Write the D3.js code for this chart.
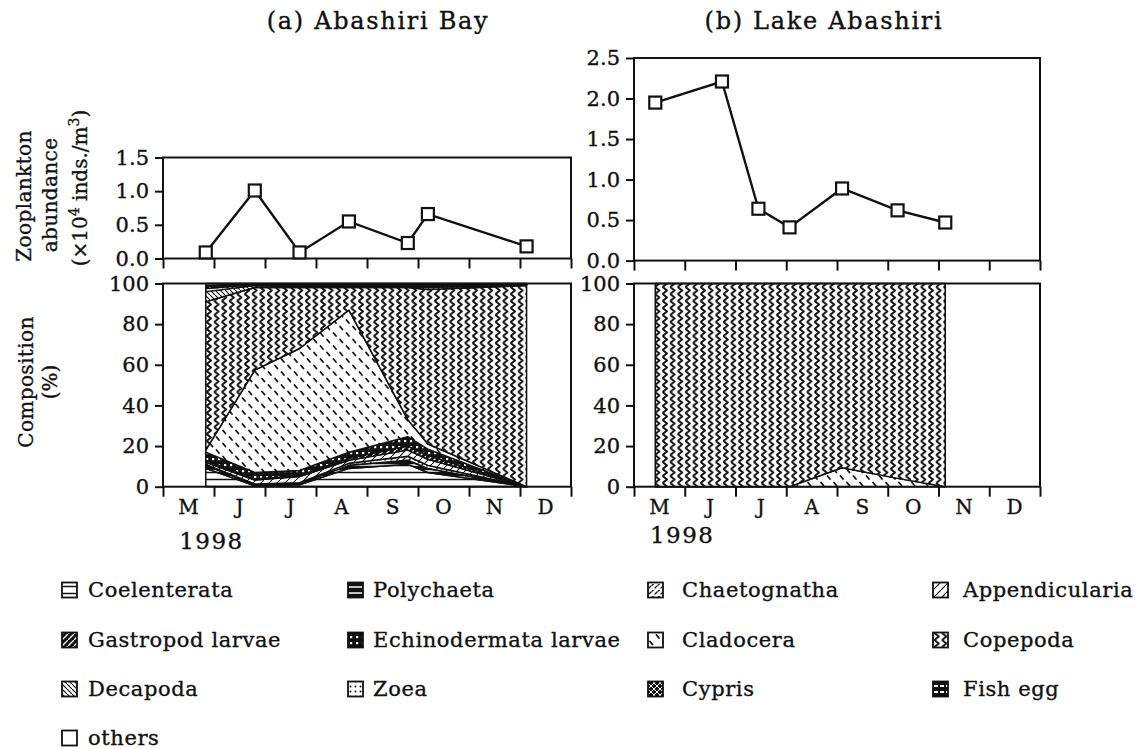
<!DOCTYPE html>
<html><head><meta charset="utf-8">
<script src="https://cdn.jsdelivr.net/npm/d3@7"></script>
<style>
body{margin:0;background:#fff;}
svg text{font-family:"DejaVu Serif",serif;fill:#111;stroke:#111;stroke-width:0.35px;}
</style></head><body>
<svg id="chart" width="1136" height="749"></svg>
<script>
// ---- data ----
const monthLabels = ["M","J","J","A","S","O","N","D"];
const yearLabel = "1998";
const bayDates = ["1998-05-27","1998-06-25","1998-07-22","1998-08-21","1998-09-25","1998-10-07","1998-12-05"];
const bayAbundance = [0.09, 1.01, 0.09, 0.55, 0.23, 0.66, 0.18];
const lakeDates = ["1998-05-14","1998-06-23","1998-07-15","1998-08-03","1998-09-04","1998-10-07","1998-11-05"];
const lakeAbundance = [1.95, 2.21, 0.64, 0.41, 0.89, 0.62, 0.47];
const bayAbundTicks = [0.0, 0.5, 1.0, 1.5];
const lakeAbundTicks = [0.0, 0.5, 1.0, 1.5, 2.0, 2.5];
const compTicks = [0, 20, 40, 60, 80, 100];
const taxa = ["Coelenterata","Polychaeta","Chaetognatha","Appendicularia","Gastropod larvae","Echinodermata larvae","Cladocera","Copepoda","Decapoda","Zoea","Cypris","Fish egg","others"];

// composition (%) in Abashiri Bay, one value per sampling date
const bayCoelenterata   = [9.0, 0.5, 1.0, 9.0, 11.0, 7.0, 0];
const bayPolychaeta     = [1.5, 0.5, 0.5, 1.5, 2.0, 2.0, 0];
const bayChaetognatha   = [0.5, 0.3, 0.5, 1.0, 2.0, 1.5, 0];
const bayAppendicularia = [1.0, 2.0, 3.0, 1.5, 3.0, 3.0, 0];
const bayGastropod      = [1.0, 0.5, 0.5, 1.0, 2.0, 2.0, 0];
const bayEchinodermata  = [4.0, 3.2, 2.5, 3.0, 4.6, 3.0, 0];
const bayCladocera      = [1.0, 50.4, 60.0, 69.9, 8.4, 2.5, 0];
const bayCopepoda       = [73.0, 40.6, 30.0, 11.1, 65.0, 76.0, 99.0];
const bayDecapoda       = [5.0, 1.0, 0.5, 0.5, 0.5, 1.0, 0.3];
const bayZoea           = [1.5, 0.5, 0.5, 0.5, 0.5, 0.5, 0.2];
const bayCypris         = [1.0, 0.2, 0.3, 0.3, 0.3, 0.5, 0.2];
const bayFishEgg        = [0.5, 0.1, 0.1, 0.3, 0.2, 0.5, 0.1];
const bayOthers         = [1.0, 0.2, 0.6, 0.4, 0.5, 0.5, 0.2];

// composition (%) in Lake Abashiri
const lakeCladocera = [0, 0, 0, 0, 9.3, 4.1, 0];
const lakeCopepoda  = [100, 100, 100, 100, 90.7, 95.9, 100];

const baySeries = {
  "Coelenterata": bayCoelenterata, "Polychaeta": bayPolychaeta, "Chaetognatha": bayChaetognatha,
  "Appendicularia": bayAppendicularia, "Gastropod larvae": bayGastropod,
  "Echinodermata larvae": bayEchinodermata, "Cladocera": bayCladocera, "Copepoda": bayCopepoda,
  "Decapoda": bayDecapoda, "Zoea": bayZoea, "Cypris": bayCypris, "Fish egg": bayFishEgg, "others": bayOthers
};
const lakeSeries = { "Cladocera": lakeCladocera, "Copepoda": lakeCopepoda };

// ---- helpers ----
function monthPos(s){
  const [y,m,d] = s.split("-").map(Number);
  const dim = new Date(y, m, 0).getDate();
  return (m - 5) + (d - 1) / dim;
}
const svg = d3.select("#chart");
const defs = svg.append("defs");

function pattern(id, w, h, bg, draw){
  const p = defs.append("pattern").attr("id", id)
    .attr("patternUnits","userSpaceOnUse").attr("width", w).attr("height", h);
  p.append("rect").attr("width", w).attr("height", h).attr("fill", bg);
  draw(p);
}
const ink = "#111";
function ln(p, x1,y1,x2,y2,c,w){ p.append("line").attr("x1",x1).attr("y1",y1).attr("x2",x2).attr("y2",y2).attr("stroke",c).attr("stroke-width",w).attr("stroke-linecap","round"); }

pattern("p-coel", 8, 7, "#fff", p => ln(p,0,3.5,8,3.5,ink,1.4));
pattern("p-poly", 8, 6, ink, p => ln(p,0,3,8,3,"#fff",1.4));
pattern("p-chae", 6, 6, "#fff", p => { ln(p,1,4,3,2,ink,1.3); ln(p,4,1.2,5.5,0,ink,1.1); });
pattern("p-appe", 8, 8, "#fff", p => ln(p,0,8,8,0,ink,1.2));
pattern("p-gast", 6, 6, ink, p => { ln(p,0,6,6,0,"#fff",1.4); });
pattern("p-echi", 6, 6, ink, p => p.append("rect").attr("x",2).attr("y",2).attr("width",2.2).attr("height",2.2).attr("fill","#fff"));
pattern("p-clad", 13, 13, "#fff", p => { ln(p,2,1.5,4.5,4.5,ink,1.8); ln(p,8.5,8,11,11,ink,1.8); });
pattern("p-cope", 7.6, 7, "#fff", p => p.append("path").attr("d","M1.4,0 L5.8,3.5 L1.4,7").attr("fill","none").attr("stroke",ink).attr("stroke-width",2).attr("stroke-linejoin","round"));
pattern("p-deca", 5, 5, "#fff", p => { ln(p,0,0,5,5,ink,1.2); });
pattern("p-zoea", 5, 5, "#fff", p => p.append("circle").attr("cx",2.5).attr("cy",2.5).attr("r",1).attr("fill",ink));
pattern("p-cypr", 6, 6, ink, p => { ln(p,0,0,6,6,"#fff",1); ln(p,6,0,0,6,"#fff",1); });
pattern("p-fish", 6, 6, ink, p => p.append("rect").attr("x",1).attr("y",2).attr("width",4).attr("height",2).attr("fill","#fff"));
pattern("p-othe", 6, 6, "#fff", p => {});
const fillOf = {
  "Coelenterata":"p-coel","Polychaeta":"p-poly","Chaetognatha":"p-chae","Appendicularia":"p-appe",
  "Gastropod larvae":"p-gast","Echinodermata larvae":"p-echi","Cladocera":"p-clad","Copepoda":"p-cope",
  "Decapoda":"p-deca","Zoea":"p-zoea","Cypris":"p-cypr","Fish egg":"p-fish","others":"p-othe"
};

// ---- panel layout ----
const compY = d3.scaleLinear().domain([0,100]).range([486.7, 283.5]);
const panels = [
  { title:"(a) Abashiri Bay", titleX:378, x:d3.scaleLinear().domain([0,8]).range([163,571]),
    y:d3.scaleLinear().domain([0,1.5]).range([258.5,157.5]), ticks:bayAbundTicks,
    dates:bayDates, abund:bayAbundance, series:baySeries, keys:taxa, yearY:549 },
  { title:"(b) Lake Abashiri", titleX:824, x:d3.scaleLinear().domain([0,8]).range([634,1040]),
    y:d3.scaleLinear().domain([0,2.5]).range([260.6,58]), ticks:lakeAbundTicks,
    dates:lakeDates, abund:lakeAbundance, series:lakeSeries, keys:["Cladocera","Copepoda"], yearY:543 }
];

function styleAxis(g, size){
  g.select(".domain").remove();
  g.selectAll(".tick line").attr("stroke", ink).attr("stroke-width", 2);
  g.selectAll(".tick text").style("font-family","DejaVu Serif, serif").style("font-size", size+"px").attr("fill","#111");
  g.attr("font-family", null).attr("font-size", null);
}

panels.forEach(P => {
  const x = P.x, y = P.y;
  const [x0, x1] = x.range();
  const [yb, yt] = y.range();

  svg.append("text").attr("x", P.titleX).attr("y", 29).attr("text-anchor","middle")
    .style("font-size","24px").style("letter-spacing","1.7px").text(P.title);

  // abundance axes
  const gy = svg.append("g").attr("transform", `translate(${x0},0)`)
    .call(d3.axisLeft(y).tickValues(P.ticks).tickSize(8).tickPadding(6).tickFormat(d3.format(".1f")));
  styleAxis(gy, 21);
  const gx = svg.append("g").attr("transform", `translate(0,${yb})`)
    .call(d3.axisBottom(x).tickValues(d3.range(0, 9)).tickSize(10).tickFormat(""));
  styleAxis(gx, 18);
  svg.append("rect").attr("x", x0).attr("y", yt).attr("width", x1 - x0).attr("height", yb - yt)
    .attr("fill","none").attr("stroke", ink).attr("stroke-width", 2);

  const pts = P.dates.map((d,i) => ({ m: monthPos(d), v: P.abund[i] }));
  svg.append("path").datum(pts)
    .attr("d", d3.line().x(d => x(d.m)).y(d => y(d.v)))
    .attr("fill","none").attr("stroke", ink).attr("stroke-width", 2.4);
  svg.append("g").selectAll("rect").data(pts).join("rect")
    .attr("x", d => x(d.m) - 6).attr("y", d => y(d.v) - 6).attr("width", 12).attr("height", 12)
    .attr("fill","#fff").attr("stroke", ink).attr("stroke-width", 2.2);

  // composition stack
  const rows = P.dates.map((d,i) => {
    const r = { m: monthPos(d) };
    P.keys.forEach(k => r[k] = P.series[k][i]);
    return r;
  });
  const stacked = d3.stack().keys(P.keys)(rows);
  const area = d3.area().x(d => x(d.data.m)).y0(d => compY(d[0])).y1(d => compY(d[1]));
  svg.append("g").selectAll("path").data(stacked).join("path")
    .attr("d", area)
    .attr("fill", s => `url(#${fillOf[s.key]})`)
    .attr("stroke", ink).attr("stroke-width", 1.5).attr("stroke-linejoin","round");

  const gcy = svg.append("g").attr("transform", `translate(${x0},0)`)
    .call(d3.axisLeft(compY).tickValues(compTicks).tickSize(8).tickPadding(6));
  styleAxis(gcy, 21);
  const gcx = svg.append("g").attr("transform", `translate(0,${compY(0)})`)
    .call(d3.axisBottom(x).tickValues(d3.range(0, 9)).tickSize(10).tickFormat(""));
  styleAxis(gcx, 18);
  svg.append("rect").attr("x", x0).attr("y", compY(100)).attr("width", x1 - x0).attr("height", compY(0) - compY(100))
    .attr("fill","none").attr("stroke", ink).attr("stroke-width", 2);

  svg.append("g").selectAll("text").data(monthLabels).join("text")
    .attr("x", (d,i) => x(i + 0.5)).attr("y", 514).attr("text-anchor","middle")
    .style("font-size","20px").text(d => d);
  svg.append("text").attr("x", x(0.95)).attr("y", P.yearY).attr("text-anchor","middle")
    .style("font-size","23px").style("letter-spacing","1.5px").text(yearLabel);
});

// ---- y-axis titles ----
function vtext(cx, cy, size){
  return svg.append("text").attr("transform", `translate(${cx},${cy}) rotate(-90)`)
    .attr("text-anchor","middle").style("font-size", size + "px");
}
vtext(31, 196, 20).style("letter-spacing","0.4px").text("Zooplankton");
vtext(57, 195, 20).style("letter-spacing","0.4px").text("abundance");
const t3 = vtext(87, 188, 20);
t3.append("tspan").text("(×10");
t3.append("tspan").attr("dy", -8).style("font-size","14px").text("4");
t3.append("tspan").attr("dy", 8).text(" inds./m");
t3.append("tspan").attr("dy", -8).style("font-size","14px").text("3");
t3.append("tspan").attr("dy", 8).text(")");
vtext(33, 382, 20).style("letter-spacing","0.4px").text("Composition");
vtext(57, 382, 20).text("(%)");

// ---- legend ----
const legCols = [62, 348, 648, 933];
const legTextOffset = [26, 25, 34, 30];
const legRows = [590, 640, 689, 738];
const leg = svg.append("g").selectAll("g").data(taxa).join("g")
  .attr("transform", (d,i) => `translate(${legCols[i % 4]},${legRows[Math.floor(i / 4)]})`);
leg.append("rect").attr("x", 0).attr("y", -7.5).attr("width", 15).attr("height", 15)
  .attr("fill", d => `url(#${fillOf[d]})`).attr("stroke", ink).attr("stroke-width", 1.8);
leg.append("text").attr("x", (d,i) => legTextOffset[i % 4]).attr("y", 7)
  .style("font-size","21px").style("letter-spacing","0.6px").text(d => d);
</script>
</body></html>
